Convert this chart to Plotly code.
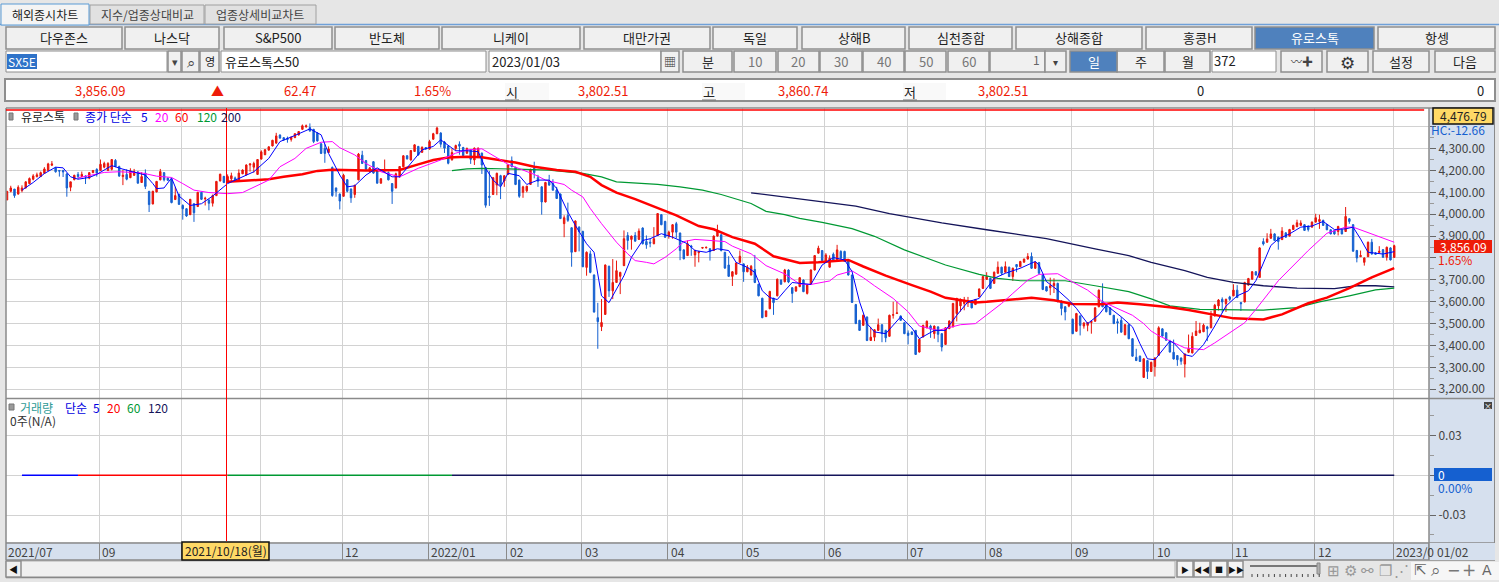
import plotly.graph_objects as go

W, H = 1499, 582
KR = "Noto Sans CJK KR"

opens = [4065,4105,4115,4092,4108,4120,4140,4160,4172,4172,
4187,4200,4224,4212,4200,4200,4184,4123,4158,4182,
4172,4175,4165,4190,4205,4200,4215,4200,4205,4246,
4218,4172,4182,4167,4178,4193,4145,4188,4105,4047,
4102,4157,4190,4165,4158,4067,4092,4040,4025,3998,
4048,4035,4100,4070,4065,4050,4085,4152,4173,4145,
4162,4166,4150,4185,4180,4225,4215,4182,4252,4272,
4293,4312,4325,4362,4350,4347,4342,4350,4362,4388,
4399,4396,4388,4370,4322,4300,4282,4214,4120,4092,
4082,4158,4115,4090,4157,4270,4245,4195,4240,4205,
4142,4197,4190,4140,4120,4170,4217,4267,4248,4287,
4310,4283,4305,4298,4343,4368,4371,4330,4312,4248,
4300,4320,4305,4279,4294,4248,4263,4279,4213,4082,
4090,4133,4176,4152,4182,4245,4214,4156,4100,4107,
4136,4210,4167,4125,4056,4152,4141,4110,4092,3957,
3995,3938,3829,3941,3921,3757,3819,3722,3527,3486,
3542,3762,3650,3688,3716,3765,3903,3885,3903,3885,
3937,3875,3872,3865,3903,3998,3967,3900,3918,3957,
3914,3837,3811,3855,3814,3824,3845,3846,3842,3834,
3900,3906,3826,3768,3716,3726,3780,3773,3737,3722,
3747,3680,3616,3532,3568,3616,3627,3699,3691,3745,
3664,3649,3669,3699,3638,3680,3745,3822,3834,3781,
3758,3817,3791,3830,3830,3788,3722,3587,3515,3492,
3530,3423,3438,3469,3495,3469,3442,3538,3546,3535,
3504,3457,3462,3469,3370,3439,3481,3489,3454,3485,
3454,3405,3477,3485,3546,3581,3592,3595,3603,3587,
3623,3661,3702,3707,3684,3730,3758,3735,3758,3715,
3770,3760,3781,3795,3807,3753,3779,3722,3669,3664,
3673,3684,3603,3577,3580,3520,3465,3535,3489,3492,
3505,3511,3577,3600,3592,3572,3538,3509,3515,3449,
3495,3431,3346,3351,3254,3331,3281,3304,3355,3476,
3458,3420,3369,3354,3343,3315,3369,3366,3446,3458,
3463,3485,3481,3535,3581,3611,3591,3622,3627,3653,
3596,3599,3676,3703,3737,3711,3875,3872,3890,3910,
3895,3884,3915,3900,3930,3943,3949,3952,3946,3941,
3964,3967,3972,3953,3929,3926,3921,3929,3921,3979,
3952,3834,3806,3780,3806,3872,3823,3825,3838,3803,
3846,3802.51]

closes = [4105,4120,4085,4123,4120,4148,4163,4175,4180,4190,
4207,4230,4230,4194,4197,4193,4120,4148,4178,4172,
4182,4170,4190,4200,4188,4228,4232,4232,4250,4218,
4175,4178,4160,4198,4195,4142,4172,4127,4044,4105,
4150,4195,4157,4155,4053,4085,4045,4025,3992,4068,
4007,4100,4068,4073,4050,4085,4150,4183,4145,4172,
4176,4150,4188,4202,4225,4230,4232,4250,4285,4295,
4308,4338,4358,4348,4340,4342,4352,4368,4378,4404,
4404,4380,4332,4335,4278,4278,4298,4085,4105,4060,
4178,4105,4075,4132,4275,4232,4205,4212,4188,4142,
4162,4205,4157,4105,4185,4218,4267,4253,4291,4317,
4271,4306,4298,4332,4368,4394,4320,4302,4233,4282,
4314,4311,4268,4300,4251,4302,4302,4225,4041,4077,
4167,4187,4133,4176,4225,4217,4136,4082,4125,4128,
4205,4190,4151,4056,4145,4133,4110,4072,3980,3984,
3972,3826,3969,3921,3760,3826,3734,3553,3509,3505,
3768,3650,3688,3742,3734,3888,3880,3900,3877,3923,
3865,3860,3868,3888,4003,3952,3895,3918,3952,3918,
3834,3796,3865,3850,3834,3828,3848,3849,3829,3900,
3926,3834,3754,3716,3737,3777,3808,3737,3757,3762,
3688,3627,3527,3558,3647,3596,3703,3680,3745,3690,
3638,3668,3710,3646,3676,3745,3811,3845,3788,3814,
3799,3784,3837,3799,3784,3722,3597,3500,3469,3538,
3423,3438,3472,3495,3454,3435,3538,3541,3549,3515,
3454,3446,3450,3359,3428,3492,3511,3474,3489,3451,
3393,3481,3512,3592,3615,3607,3607,3604,3572,3610,
3658,3715,3715,3661,3735,3758,3730,3761,3715,3753,
3760,3784,3795,3807,3753,3781,3730,3656,3649,3673,
3684,3600,3569,3553,3590,3454,3546,3492,3503,3504,
3510,3572,3653,3577,3554,3541,3500,3503,3461,3495,
3431,3351,3331,3327,3339,3281,3323,3343,3481,3443,
3424,3370,3338,3335,3328,3361,3386,3442,3466,3470,
3493,3476,3535,3584,3608,3599,3611,3611,3653,3619,
3591,3688,3706,3737,3722,3846,3864,3887,3910,3880,
3875,3923,3895,3930,3949,3961,3960,3926,3930,3964,
3984,3976,3949,3929,3910,3910,3944,3910,3990,3967,
3831,3800,3811,3800,3872,3818,3817,3831,3803,3849,
3791,3856.09]

highs = [4105,4130,4115,4132,4132,4150,4168,4183,4190,4195,
4215,4235,4243,4216,4200,4203,4188,4148,4180,4193,
4195,4178,4192,4202,4210,4250,4240,4238,4252,4252,
4222,4203,4205,4210,4207,4197,4192,4205,4105,4107,
4152,4207,4192,4168,4162,4125,4092,4045,4028,4070,
4050,4102,4102,4080,4068,4090,4152,4185,4175,4182,
4190,4172,4205,4205,4228,4232,4240,4252,4292,4298,
4310,4340,4372,4365,4352,4355,4355,4370,4380,4410,
4410,4415,4390,4375,4325,4320,4310,4218,4122,4095,
4185,4160,4118,4135,4280,4290,4248,4215,4243,4208,
4165,4250,4195,4142,4190,4220,4270,4270,4293,4320,
4312,4310,4305,4340,4372,4400,4375,4335,4315,4300,
4318,4333,4308,4305,4297,4305,4305,4282,4215,4198,
4170,4190,4180,4178,4230,4264,4217,4158,4130,4130,
4208,4240,4180,4128,4148,4180,4160,4125,4095,3995,
4053,3940,3972,3945,3925,3830,3834,3725,3595,3612,
3770,3765,3795,3788,3737,3926,3918,3902,3918,3935,
3940,3903,3888,3941,4005,4000,3970,3925,3955,3965,
3916,3840,3880,3860,3838,3832,3850,3851,3845,3903,
3952,3908,3828,3808,3740,3780,3834,3775,3768,3768,
3814,3682,3618,3560,3650,3618,3706,3702,3750,3748,
3667,3670,3712,3702,3680,3748,3813,3856,3836,3822,
3812,3825,3860,3835,3833,3792,3724,3590,3517,3542,
3533,3485,3475,3523,3497,3472,3541,3600,3600,3537,
3506,3469,3464,3471,3431,3495,3514,3495,3491,3488,
3457,3484,3515,3595,3618,3615,3622,3622,3606,3613,
3661,3718,3735,3710,3738,3784,3760,3784,3760,3756,
3772,3787,3797,3822,3825,3784,3782,3724,3671,3710,
3707,3687,3606,3580,3595,3523,3549,3538,3506,3507,
3513,3575,3656,3684,3594,3575,3540,3523,3530,3498,
3498,3433,3385,3354,3342,3334,3326,3346,3488,3479,
3461,3426,3427,3356,3345,3364,3450,3460,3512,3504,
3500,3490,3558,3590,3612,3620,3614,3627,3680,3676,
3598,3691,3709,3740,3740,3849,3890,3913,3933,3913,
3898,3941,3917,3933,3952,3975,3972,3955,3948,3967,
4002,3998,3975,3956,3931,3928,3947,3931,4033,3982,
3955,3837,3834,3803,3875,3887,3826,3854,3841,3852,
3849,3860.74]

lows = [4065,4100,4075,4090,4100,4118,4138,4155,4168,4170,
4185,4198,4220,4190,4172,4170,4080,4105,4155,4160,
4170,4138,4160,4188,4172,4198,4210,4197,4200,4215,
4170,4133,4155,4165,4175,4140,4143,4115,4010,4045,
4100,4155,4150,4153,4050,4065,4042,3975,3988,3996,
3965,4033,4065,4040,4018,4035,4083,4150,4142,4143,
4150,4148,4148,4183,4178,4195,4190,4180,4250,4270,
4290,4310,4322,4345,4335,4327,4332,4348,4360,4386,
4396,4378,4325,4332,4275,4235,4280,4080,4080,4022,
4080,4100,4052,4075,4155,4230,4200,4190,4185,4140,
4140,4195,4155,4047,4118,4168,4215,4250,4245,4285,
4268,4280,4295,4295,4340,4366,4305,4280,4228,4246,
4290,4272,4262,4275,4230,4225,4260,4184,4030,4038,
4088,4087,4069,4125,4180,4215,4133,4075,4075,4100,
4134,4164,4125,3998,4054,4130,4108,4070,3978,3895,
3965,3760,3827,3830,3758,3719,3730,3550,3385,3466,
3540,3622,3612,3686,3635,3763,3838,3838,3875,3883,
3862,3842,3849,3863,3900,3950,3892,3888,3888,3890,
3790,3794,3809,3810,3760,3780,3843,3844,3788,3832,
3898,3830,3750,3714,3672,3724,3778,3691,3735,3720,
3685,3625,3525,3530,3566,3540,3625,3678,3689,3685,
3595,3645,3667,3644,3633,3678,3743,3820,3785,3779,
3756,3782,3789,3797,3782,3720,3595,3498,3467,3490,
3420,3421,3420,3467,3415,3415,3440,3523,3545,3513,
3452,3405,3448,3357,3368,3437,3479,3435,3431,3415,
3373,3403,3475,3483,3510,3555,3561,3576,3570,3585,
3621,3659,3700,3658,3682,3728,3722,3733,3713,3695,
3735,3758,3778,3793,3750,3750,3728,3653,3647,3630,
3640,3598,3538,3515,3575,3452,3463,3446,3477,3465,
3454,3509,3575,3575,3552,3539,3498,3454,3459,3447,
3429,3349,3329,3325,3252,3247,3279,3258,3357,3441,
3422,3368,3336,3307,3312,3254,3365,3364,3444,3456,
3461,3420,3479,3533,3560,3550,3553,3604,3625,3617,
3558,3597,3674,3701,3720,3709,3857,3870,3888,3878,
3838,3882,3893,3898,3928,3941,3947,3924,3921,3939,
3962,3933,3947,3927,3908,3906,3903,3908,3919,3956,
3829,3780,3804,3765,3804,3816,3815,3823,3801,3788,
3789,3802.51]

ma5_i = [4,7,10,13,15,17,19,22,24,28,31,34,37,39,40,42,44,46,49,52,55,59,62,66,70,73,77,81,84,86,89,91,93,96,99,103,105,
108,111,114,116,120,123,126,128,130,132,134,137,139,142,145,147,150,152,155,157,159,161,162,165,167,170,172,175,178,182,184,187,190,193,195,198,200,202,204,206,208,210,
212,215,218,221,224,226,228,230,232,235,239,242,244,248,251,254,257,260,264,267,271,275,276,278,281,284,286,289,292,294,298,301,303,305,307,
311,312,315,317,320,323,326,329,332,334,336,338,340,343,346,349,352,355,358,360,362,364,368,371]
ma5_v = [4110,4145,4186,4215,4212,4171,4160,4168,4182,4222,4206,4194,4179,4140,4117,4120,4166,4083,4040,4048,4083,4140,4163,4194,4255,4332,4360,4390,4363,4278,4179,4125,4130,4179,4212,4171,4171,
4233,4294,4310,4340,4290,4290,4286,4210,4156,4125,4187,4176,4136,4156,4156,4118,4010,3949,3865,3826,3627,3596,3627,3719,3803,3880,3888,3911,3895,3865,3834,3826,3842,3834,3780,3757,3734,3650,3619,3610,3650,3688,
3684,3679,3768,3802,3791,3738,3600,3500,3462,3454,3531,3480,3431,3469,3469,3538,3600,3615,3707,3730,3753,3784,3768,3692,3653,3607,3570,3500,3540,3584,3531,3485,3408,3339,3335,
3420,3412,3358,3350,3404,3489,3580,3627,3650,3696,3780,3857,3887,3910,3941,3946,3967,3930,3933,3941,3887,3826,3818,3829]

ma20_i = [19,23,26,30,36,40,44,47,50,54,59,63,66,70,73,77,80,84,87,89,93,96,100,105,
110,116,120,123,127,130,134,141,144,149,151,154,156,159,163,166,168,171,173,176,179,181,184,188,192,194,199,203,208,212,
215,220,222,226,229,232,237,241,244,249,251,255,259,262,266,269,273,276,281,284,289,293,297,301,304,306,308,311,315,320,323,331,334,340,343,348,353,358,360,365,371]
ma20_v = [4166,4179,4191,4194,4189,4174,4168,4140,4110,4099,4094,4099,4125,4156,4217,4255,4301,4329,4332,4304,4271,4232,4194,4171,
4210,4248,4279,4294,4299,4268,4228,4182,4156,4136,4110,4079,4026,3957,3872,3819,3788,3780,3773,3803,3842,3875,3885,3880,3875,3854,3819,3765,3727,3681,
3679,3695,3722,3741,3710,3673,3615,3554,3489,3469,3477,3495,3500,3538,3592,3638,3699,3725,3728,3699,3653,3600,3569,3538,3500,3466,3445,3420,3389,3381,3412,3504,3565,3696,3749,3834,3913,3941,3941,3910,3872]

ma60_i = [59,66,70,74,79,83,87,96,105,110,114,118,123,127,132,136,141,147,152,156,159,163,168,174,179,185,189,194,200,205,212,
217,225,229,235,242,247,251,259,262,267,274,280,285,293,297,303,309,311,316,322,328,336,341,348,353,359,365,371]
ma60_v = [4148,4156,4160,4171,4183,4198,4203,4200,4202,4228,4248,4259,4263,4260,4248,4236,4217,4202,4194,4171,4133,4099,4069,4029,3995,3946,3931,3895,3865,3808,3777,
3781,3791,3761,3719,3676,3646,3618,3597,3600,3607,3618,3607,3590,3589,3597,3589,3578,3575,3562,3542,3524,3519,3542,3593,3619,3662,3711,3754]

ma120_i = [119,123,127,136,145,154,159,163,168,174,180,186,191,199,203,208,212,218,226,232,240,247,251,260,265,271,283,291,300,306,311,319,328,336,345,351,359,366,371]
ma120_v = [4199,4207,4210,4207,4202,4187,4171,4148,4143,4136,4125,4110,4090,4049,4013,3998,3981,3963,3934,3899,3837,3791,3768,3725,3707,3696,3696,3673,3646,3613,3581,3565,3565,3562,3573,3599,3627,3654,3662]

ma200_i = [199,204,212,218,227,236,250,262,278,291,300,306,315,321,328,336,345,355,361,366,371]
ma200_v = [4098,4087,4069,4057,4037,4003,3960,3929,3888,3842,3811,3780,3742,3711,3688,3673,3662,3660,3673,3673,3668]

vol_ma5_i, vol_ma5 = [4, 19], [0, 0]
vol_ma20_i, vol_ma20 = [19, 59], [0, 0]
vol_ma60_i, vol_ma60 = [59, 119], [0, 0]
vol_ma120_i, vol_ma120 = [119, 371], [0, 0]

month_starts = [25, 47, 68, 90, 113, 134, 154, 177, 197, 219, 241, 262, 285, 307, 328, 350, 371]
month_labels = ["09", "", "", "12", "2022/01", "02", "03", "04", "05", "06", "07", "08", "09", "10", "11", "12", "2023/0"]
price_ticks = [3200, 3300, 3400, 3500, 3600, 3700, 3800, 3900, 4000, 4100, 4200, 4300, 4400]
price_labels = ["3,200.00", "3,300.00", "3,400.00", "3,500.00", "3,600.00", "3,700.00", "", "3,900.00", "4,000.00", "4,100.00", "4,200.00", "4,300.00", ""]
vol_ticks = [-0.03, 0, 0.03]
vol_labels = ["-0.03", "", "0.03"]
high_line = 4476.79
cross_i = 58.7

top_buttons = [("다우존스",6,122),("나스닥",125,219),("S&P500",224,332),("반도체",335,439),("니케이",442,580),("대만가권",584,710),("독일",713,797),("상해B",802,905),("심천종합",909,1012),("상해종합",1016,1142),("홍콩H",1146,1252),("유로스톡",1255,1374),("항셍",1378,1495)]
row2_buttons = [("분",683,732,"#333333"),("10",734,776,"#777777"),("20",778,819,"#777777"),("30",820,862,"#777777"),("40",863,904,"#777777"),("50",905,946,"#777777"),("60",948,989,"#777777"),("주",1117,1164,"#222222"),("월",1165,1210,"#222222"),("설정",1373,1429,"#222222"),("다음",1435,1495,"#222222")]

shapes, annos = [], []
def X(p): return p / W
def Y(p): return 1 - p / H
def rect(x0, y0, x1, y1, fill, line=None, lw=1, layer="below"):
    shapes.append(dict(type="rect", xref="paper", yref="paper", x0=X(x0), x1=X(x1), y0=Y(y0), y1=Y(y1), fillcolor=fill,
                       line=dict(color=line or fill, width=lw if line else 0), layer=layer))
def hline(x0, x1, y, color, lw=1, layer="below"):
    shapes.append(dict(type="line", xref="paper", yref="paper", x0=X(x0), x1=X(x1), y0=Y(y), y1=Y(y), line=dict(color=color, width=lw), layer=layer))
def vline(x, y0, y1, color, lw=1, layer="below"):
    shapes.append(dict(type="line", xref="paper", yref="paper", x0=X(x), x1=X(x), y0=Y(y0), y1=Y(y1), line=dict(color=color, width=lw), layer=layer))
def text(x, y, s, color="#222222", size=12, anchor="center", font=KR):
    annos.append(dict(xref="paper", yref="paper", x=X(x), y=Y(y), text=s, showarrow=False, xanchor=anchor, yanchor="middle",
                      font=dict(family=font, size=size, color=color), borderpad=0, borderwidth=0))
def button(x0, y0, x1, y1, s, color="#222222", fill="#F0F0F0", border="#8E8E8E", size=13):
    rect(x0, y0, x1, y1, fill, border, 1.5)
    if s:
        text((x0 + x1) / 2, (y0 + y1) / 2, s, color, size)

BLUE = "#4F81BD"
# tabs
hline(0, W, 24.5, "#6FA0D8", 1.5)
rect(90, 5, 204, 24, "#E1E1E1", "#A0A0A0")
rect(205, 5, 316, 24, "#E1E1E1", "#A0A0A0")
rect(1, 4, 89, 25, "#F4F4F4", "#5B9BD5")
text(45, 14.5, "해외종시차트", "#222222", 12)
text(147, 14.5, "지수/업종상대비교", "#444444", 12)
text(260, 14.5, "업종상세비교차트", "#444444", 12)
# first button row
for s, a, b in top_buttons:
    if s == "유로스톡":
        button(a, 27, b, 49, s, "#FFFFFF", BLUE, "#8E8E8E")
    else:
        button(a, 27, b, 49, s)
# second row
rect(6, 51, 167, 72, "#FFFFFF", "#8E8E8E")
rect(7, 54, 37, 69, "#2F73C9")
text(8, 61.5, "SX5E", "#FFFFFF", 12, "left")
button(168, 51, 181, 72, "▾", "#444444", size=11)
button(182, 51, 199, 72, "⌕", "#444444", size=15)
button(200, 51, 219, 72, "영", "#222222", size=11)
rect(221, 51, 486, 72, "#FFFFFF", "#8E8E8E")
text(225, 61.5, "유로스톡스50", "#222222", 13, "left")
rect(489, 51, 661, 72, "#FFFFFF", "#8E8E8E")
text(492, 61.5, "2023/01/03", "#222222", 13, "left")
button(661, 51, 679, 72, "▦", "#333333", size=12)
for s, a, b, c in row2_buttons:
    button(a, 51, b, 72, s, c)
button(990, 51, 1045, 72, "", "#555555")
text(1040, 60, "1", "#666666", 12, "right")
button(1045, 51, 1066, 72, "▾", "#444444", size=10)
button(1070, 51, 1117, 72, "일", "#FFFFFF", BLUE)
rect(1212, 51, 1276, 72, "#FFFFFF", "#8E8E8E")
text(1214, 60.5, "372", "#222222", 13, "left")
button(1281, 51, 1322, 72, "〰✚", "#444444", size=11)
button(1327, 51, 1368, 72, "⚙", "#333333", size=17)
# info row
rect(5, 79, 1495, 101, "#FFFFFF", "#8E8E8E", 2)
for s, x in [("3,856.09", 100), ("62.47", 300), ("1.65%", 432), ("3,802.51", 603), ("3,860.74", 803), ("3,802.51", 1003)]:
    text(x, 90, s, "#EE1C08", 13)
text(217, 90, "▲", "#EE1C08", 13)
for a, b, s in [(505, 549, "시"), (702, 745, "고"), (903, 946, "저")]:
    rect(a, 83, b, 100, "#F9F9F9")
    hline(a, a + 14, 100, "#777777")
    text(a + 7, 91, s, "#222222", 13)
text(1200, 90, "0", "#222222", 13)
text(1480, 90, "0", "#222222", 13)
# chart frame
rect(1429, 108, 1495, 560, "#D6E0EE")
rect(6, 543, 1429, 560, "#D6E0EE")
vline(6, 108, 560, "#8A8A8A", 1.5, "above")
vline(1429, 108, 560, "#8A8A8A", 1.5, "above")
hline(6, 1495, 108, "#8A8A8A", 1.5, "above")
hline(6, 1495, 398.5, "#8A8A8A", 1.5, "above")
hline(6, 1495, 543, "#8A8A8A", 1.5, "above")
hline(6, 1495, 560, "#8A8A8A", 1.5, "above")
vline(1494.5, 108, 560, "#8A8A8A", 1, "above")
# legend texts
rect(9, 113, 13, 120, "#9A9A9A", "#777777", 1, "above")
text(21, 117, "유로스톡", "#222222", 12, "left")
rect(74, 113, 78, 120, "#9A9A9A", "#777777", 1, "above")
text(85, 117, "종가 단순", "#0000E0", 12, "left")
text(141, 117, "5", "#0000E0", 12, "left")
text(155, 117, "20", "#FF00FF", 12, "left")
text(175, 117, "60", "#FF0000", 12, "left")
text(197, 117, "120", "#009933", 12, "left")
text(221, 117, "200", "#14145A", 12, "left")
rect(9, 404, 14, 410, "#9A9A9A", "#777777", 1, "above")
text(20, 407, "거래량", "#2E9B96", 12, "left")
text(65, 407, "단순", "#0000E0", 12, "left")
text(93, 407, "5", "#0000E0", 12, "left")
text(107, 407, "20", "#FF0000", 12, "left")
text(127, 407, "60", "#009933", 12, "left")
text(148, 407, "120", "#14145A", 12, "left")
text(10, 420, "0주(N/A)", "#333333", 12, "left")
# x labels
text(8, 551, "2021/07", "#444444", 12, "left")
for m, s in zip(month_starts, month_labels):
    if s:
        annos.append(dict(xref="x", yref="paper", x=m - 0.3, y=Y(551), text=s, showarrow=False, xanchor="left", yanchor="middle", xshift=1,
                          font=dict(family=KR, size=12, color="#444444")))
rect(1429, 543, 1495, 560, "#D6E0EE", None, 1, "above")
vline(1429, 543, 560, "#8A8A8A", 1.5, "above")
text(1437, 551, "01/02", "#444444", 12, "left")
rect(182, 542, 269, 560, "#FFD966", "#111111", 1.5, "above")
text(225.5, 550.5, "2021/10/18(월)", "#222222", 12)
# side tags
rect(1433, 108, 1493, 124, "#FFD966", "#111111", 1.5, "above")
text(1463, 116, "4,476.79", "#222222", 12)
text(1431, 129, "HC:-12.66", "#1560D0", 12, "left")
rect(1434, 240, 1492, 253, "#EE1C08", None, 1, "above")
text(1463, 246.5, "3,856.09", "#FFFFFF", 12)
text(1438, 259, "1.65%", "#EE1C08", 12, "left")
rect(1434, 468, 1492, 481, "#1560D0", None, 1, "above")
text(1438, 474.5, "0", "#FFFFFF", 12, "left")
text(1438, 487, "0.00%", "#1560D0", 12, "left")
rect(1484, 402, 1492, 409, "#444444", None, 1, "above")
text(1488, 405.5, "×", "#FFFFFF", 8)
# bottom bar
rect(6, 561, 1175, 577, "#F0F0F0", "#B0B0B0")
hline(6, 1175, 577.5, "#888888", 1.5)
button(6, 561, 21, 577, "◀", "#111111", size=9)
for s, a, b in [("▶", 1177, 1193), ("◀◀", 1194, 1210), ("■", 1211, 1227), ("▶▶", 1228, 1243)]:
    button(a, 561, b, 577, s, "#111111", "#F4F4F4", size=8)
hline(1250, 1319, 566, "#777777", 2)
rect(1317, 563, 1320, 574, "#B0B0B0", "#888888")
for k in range(13):
    vline(1252 + k * 5.6, 574, 577, "#444444")
for x, s in [(1333, "⊞"), (1350, "⚙"), (1367, "⚯"), (1385, "❐"), (1401, "⋰")]:
    text(x, 569, s, "#999999", 15)
rect(1411, 562, 1499, 580, "#F6F6F6")
for x, s, c, z in [(1420, "⇱", "#666666", 15), (1436, "⌕", "#666666", 17), (1453, "−", "#777777", 16), (1469, "+", "#777777", 17), (1487, "A", "#666666", 14)]:
    text(x, 570, s, c, z, font="DejaVu Sans")
# high line and crosshair
shapes.append(dict(type="line", xref="x", yref="y", x0=-1, x1=379, y0=high_line, y1=high_line, line=dict(color="#FF0000", width=1.5), layer="above"))
shapes.append(dict(type="line", xref="x", yref="paper", x0=cross_i, x1=cross_i, y0=Y(108), y1=Y(541), line=dict(color="#FF0000", width=1), layer="above"))

idx = list(range(len(closes)))
fig = go.Figure()
fig.add_trace(go.Candlestick(x=idx, open=opens, high=highs, low=lows, close=closes, xaxis="x", yaxis="y", whiskerwidth=0,
    increasing=dict(line=dict(color="#E8160C", width=1), fillcolor="#E8160C"),
    decreasing=dict(line=dict(color="#1560D0", width=1), fillcolor="#1560D0"), hoverinfo="skip"))
for xs, ys, c, w in [(ma200_i, ma200_v, "#14145A", 1.3), (ma120_i, ma120_v, "#009933", 1.2), (ma60_i, ma60_v, "#FF0000", 2.5),
                     (ma20_i, ma20_v, "#FF00FF", 1), (ma5_i, ma5_v, "#0000FF", 1)]:
    fig.add_trace(go.Scatter(x=xs, y=ys, mode="lines", line=dict(color=c, width=w), xaxis="x", yaxis="y", hoverinfo="skip"))
for xs, ys, c in [(vol_ma5_i, vol_ma5, "#0000FF"), (vol_ma20_i, vol_ma20, "#FF0000"), (vol_ma60_i, vol_ma60, "#009933"), (vol_ma120_i, vol_ma120, "#14145A")]:
    fig.add_trace(go.Scatter(x=xs, y=ys, mode="lines", line=dict(color=c, width=1.5), xaxis="x2", yaxis="y2", hoverinfo="skip"))

grid = "#D2D2D2"
xr = [-0.27, 380.3]
grid_x = [m - 0.3 for m in month_starts]
xcommon = dict(range=xr, domain=[6 / W, 1429 / W], tickmode="array", tickvals=grid_x, showgrid=True, gridcolor=grid, gridwidth=1,
               zeroline=False, showline=False, fixedrange=True, rangeslider=dict(visible=False), showticklabels=False)
fig.update_layout(
    width=W, height=H, autosize=False, margin=dict(l=0, r=0, t=0, b=0), paper_bgcolor="#E6E6E6", plot_bgcolor="#FFFFFF",
    showlegend=False, boxgap=0.45, shapes=shapes, annotations=annos, font=dict(family=KR),
    xaxis=dict(anchor="y", **xcommon),
    xaxis2=dict(anchor="y2", matches="x", ticks="outside", ticklen=17, tickcolor="#8A8A8A", tickwidth=1, **xcommon),
    yaxis=dict(domain=[Y(398), Y(108)], range=[3160, 4485.5], side="right", anchor="x", tickmode="array", tickvals=price_ticks, ticktext=price_labels,
               showgrid=True, gridcolor=grid, gridwidth=1, zeroline=False, ticks="outside", ticklen=6, tickcolor="#666666", tickwidth=1,
               tickfont=dict(family=KR, size=12, color="#444444"), fixedrange=True,
               minor=dict(ticks="outside", ticklen=4, tickcolor="#999999", tickmode="array", tickvals=[3250, 3350, 3450, 3550, 3650, 3750, 3850, 3950, 4050, 4150, 4250, 4350], showgrid=False)),
    yaxis2=dict(domain=[Y(542), Y(398.5)], range=[-0.0503, 0.0578], side="right", anchor="x2", tickmode="array", tickvals=vol_ticks, ticktext=vol_labels,
                showgrid=True, gridcolor=grid, gridwidth=1, zeroline=False, ticks="outside", ticklen=6, tickcolor="#666666", tickwidth=1,
                tickfont=dict(family=KR, size=12, color="#444444"), fixedrange=True,
                minor=dict(ticks="outside", ticklen=4, tickcolor="#999999", tickmode="array", tickvals=[-0.045, -0.015, 0.015, 0.045], showgrid=False)),
)
fig.write_html("out.html", config=dict(displayModeBar=False, staticPlot=True),
               post_script="document.body.style.margin='0';document.documentElement.style.overflow='hidden';document.body.style.background='#E6E6E6';")
